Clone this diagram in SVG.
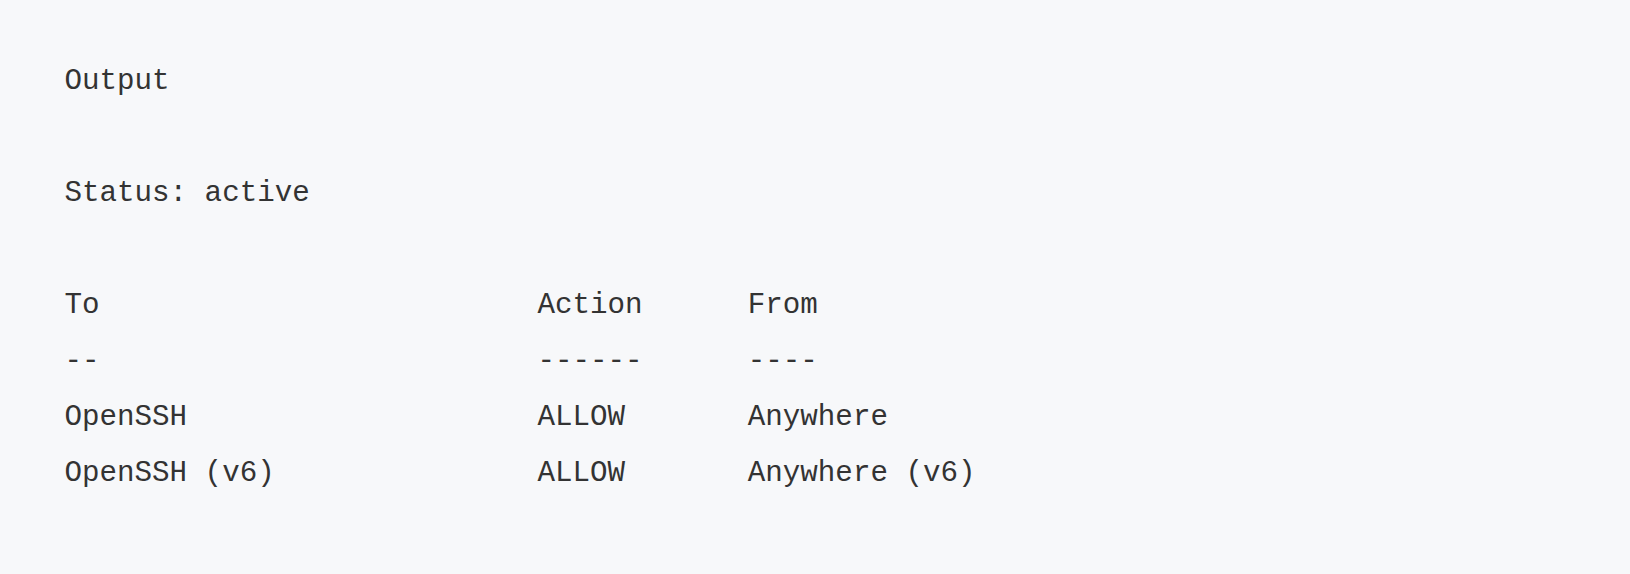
<svg xmlns="http://www.w3.org/2000/svg" width="1630" height="574" viewBox="0 0 1630 574">
<style>
  .t { font-family: "Liberation Mono", "Courier New", monospace; font-size: 29.2px; fill: #333333; white-space: pre; }
</style>
<rect x="0" y="0" width="1630" height="574" fill="#f7f8fa"/>
<g id="output">
  <text class="t" x="64.5" y="89">Output</text>
  <text class="t" x="64.5" y="201">Status: active</text>
  <text class="t" x="64.5" y="313">To</text>
  <text class="t" x="537.5" y="313">Action</text>
  <text class="t" x="747.8" y="313">From</text>
  <text class="t" x="64.5" y="369">--</text>
  <text class="t" x="537.5" y="369">------</text>
  <text class="t" x="747.8" y="369">----</text>
  <text class="t" x="64.5" y="425">OpenSSH</text>
  <text class="t" x="537.5" y="425">ALLOW</text>
  <text class="t" x="747.8" y="425">Anywhere</text>
  <text class="t" x="64.5" y="481">OpenSSH (v6)</text>
  <text class="t" x="537.5" y="481">ALLOW</text>
  <text class="t" x="747.8" y="481">Anywhere (v6)</text>
</g>
</svg>
